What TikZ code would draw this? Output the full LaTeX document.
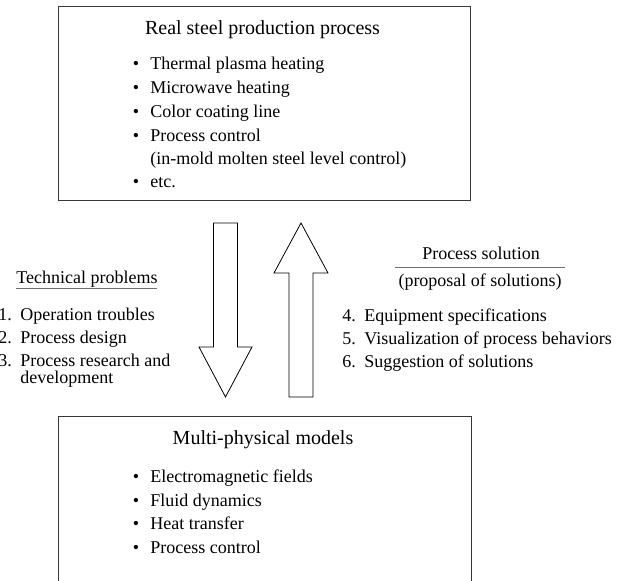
\documentclass[tikz,border=0pt]{standalone}
\usepackage{fontspec}
\setmainfont{Liberation Serif}
\definecolor{boxline}{RGB}{55,55,55}
\definecolor{rulegray}{RGB}{110,110,110}

\begin{document}
\begin{tikzpicture}[x=0.5pt, y=-0.5pt,
    panel/.style={draw=boxline, line width=0.6pt, inner sep=0pt, anchor=north west},
    heading/.style={font=\fontsize{10}{12}\selectfont, inner sep=0pt, anchor=base},
    entry/.style={font=\fontsize{9}{11}\selectfont, inner sep=0pt, anchor=base west},
    dot/.style={font=\fontsize{9}{11}\selectfont, inner sep=0pt, anchor=base},
    blockarrow/.style={draw=black, line width=0.4pt, fill=white, line join=miter}]
    % Frame to fix the page size
    \useasboundingbox (0,0) rectangle (628,581);
    \clip (0,0) rectangle (628,581);

    % Real steel production process
    \node[panel, minimum width=206pt, minimum height=97pt] (real) at (58,6) {};
    \node[heading] (realtitle) at (262.5,35) {Real steel production process};
    \foreach \txt [count=\i] in {Thermal plasma heating, Microwave heating, Color coating line, Process control} {
        \node[dot] (realdot\i) at (136,46+24*\i) {\textbullet};
        \node[entry] (real\i) at (150,46+24*\i) {\txt};
    }
    \node[entry] (real4b) at (150,165) {(in-mold molten steel level control)};
    \node[dot] (realdot5) at (136,188) {\textbullet};
    \node[entry] (real5) at (150,188) {etc.};

    % Downward arrow
    \draw[blockarrow] (213.5,223) -- (237.5,223) -- (237.5,347) -- (252,347)
        -- (225.5,397) -- (199,347) -- (213.5,347) -- cycle;
    % Upward arrow
    \draw[blockarrow] (289,397) -- (313,397) -- (313,273) -- (328,273)
        -- (301,223) -- (274,273) -- (289,273) -- cycle;

    % Technical problems
    \node[entry, anchor=base] (techtitle) at (87,284) {Technical problems};
    \draw[rulegray, line width=0.5pt] (16,289) -- (157,289);
    \foreach \txt [count=\i] in {Operation troubles, Process design, Process research and} {
        \node[entry] (technum\i) at (-2,298+23*\i) {\i.};
        \node[entry] (tech\i) at (20,298+23*\i) {\txt};
    }
    \node[entry] (tech3b) at (20,384) {development};

    % Process solution
    \node[entry, anchor=base] (soltitle) at (481,260) {Process solution};
    \draw[rulegray, line width=0.5pt] (395,268) -- (565,268);
    \node[entry, anchor=base] (solsub) at (480,287) {(proposal of solutions)};
    \foreach \txt [count=\i] in {Equipment specifications, Visualization of process behaviors, Suggestion of solutions} {
        \pgfmathtruncatemacro{\num}{\i+3}
        \node[entry] (solnum\i) at (342,299+23*\i) {\num.};
        \node[entry] (sol\i) at (364,299+23*\i) {\txt};
    }

    % Multi-physical models
    \node[panel, minimum width=206.5pt, minimum height=100pt] (models) at (58,416) {};
    \node[heading] (modelstitle) at (263,445) {Multi-physical models};
    \foreach \txt [count=\i] in {Electromagnetic fields, Fluid dynamics, Heat transfer, Process control} {
        \node[dot] (modeldot\i) at (136,459.5+23.5*\i) {\textbullet};
        \node[entry] (model\i) at (150,459.5+23.5*\i) {\txt};
    }
\end{tikzpicture}
\end{document}
